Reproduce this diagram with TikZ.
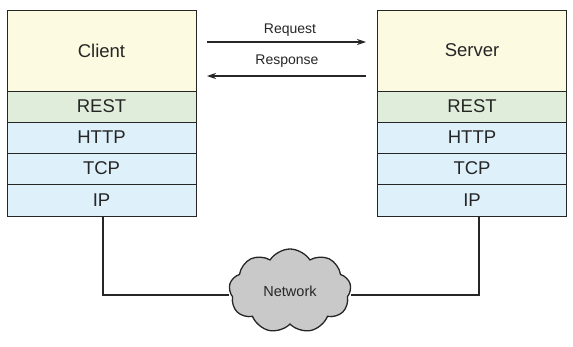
\documentclass[tikz,border=0pt]{standalone}
\usepackage{fontspec}
\setmainfont{Liberation Sans}
\usetikzlibrary{shapes.symbols,arrows.meta}
\definecolor{appfill}{HTML}{FCFAE1}
\definecolor{restfill}{HTML}{E0EDDB}
\definecolor{netfill}{HTML}{DEF0FA}
\definecolor{cloudfill}{HTML}{C9C9C9}
\begin{document}
\begin{tikzpicture}[x=1pt,y=-1pt,
  layer/.style={shape=rectangle,draw=black!85,line width=1pt,inner sep=0pt,
    minimum width=189pt,font=\fontsize{18.5}{20}\selectfont,text=black!85},
  msg/.style={font=\fontsize{14}{16}\selectfont,text=black!85},
  link/.style={line width=1.1pt,black!85}]
  \useasboundingbox[fill=white] (0,0) rectangle (573,346);
  % client stack
  \node[layer,fill=appfill,minimum height=81pt] (client) at (101.5,50.5) {Client};
  \node[layer,fill=restfill,minimum height=31pt] (restc) at (101.5,106.5) {REST};
  \node[layer,fill=netfill,minimum height=31pt] (httpc) at (101.5,137.5) {HTTP};
  \node[layer,fill=netfill,minimum height=31pt] (tcpc) at (101.5,168.5) {TCP};
  \node[layer,fill=netfill,minimum height=32pt] (ipc) at (101.5,200.5) {IP};
  % server stack
  \node[layer,fill=appfill,minimum height=81pt] (server) at (472,50.5) {Server};
  \node[layer,fill=restfill,minimum height=31pt] (rests) at (472,106.5) {REST};
  \node[layer,fill=netfill,minimum height=31pt] (https) at (472,137.5) {HTTP};
  \node[layer,fill=netfill,minimum height=31pt] (tcps) at (472,168.5) {TCP};
  \node[layer,fill=netfill,minimum height=32pt] (ips) at (472,200.5) {IP};
  % messages
  \coordinate (reqa) at (207,42);
  \coordinate (reqb) at (366,42);
  \coordinate (resa) at (366,76);
  \coordinate (resb) at (207,76);
  \node[msg] (req) at (290,30) {Request};
  \node[msg] (res) at (287,61) {Response};
  \draw[link,-{Stealth[length=9pt,width=6pt]}] (reqa) -- (reqb);
  \draw[link,-{Stealth[length=9pt,width=6pt]}] (resa) -- (resb);
  % network
  \node[shape=cloud,cloud puffs=9,cloud puff arc=115,aspect=1.45,draw=black!85,
    line width=1.3pt,fill=cloudfill,minimum width=122pt,minimum height=84pt,
    inner sep=0pt,font=\fontsize{14.5}{16}\selectfont,text=black!85] (net) at (290,291) {Network};
  \draw[link] ([xshift=1.5pt]ipc.south) |- ([yshift=-4pt]net.west);
  \draw[link] ([xshift=7pt]ips.south) |- ([yshift=-4pt]net.east);
\end{tikzpicture}
\end{document}
